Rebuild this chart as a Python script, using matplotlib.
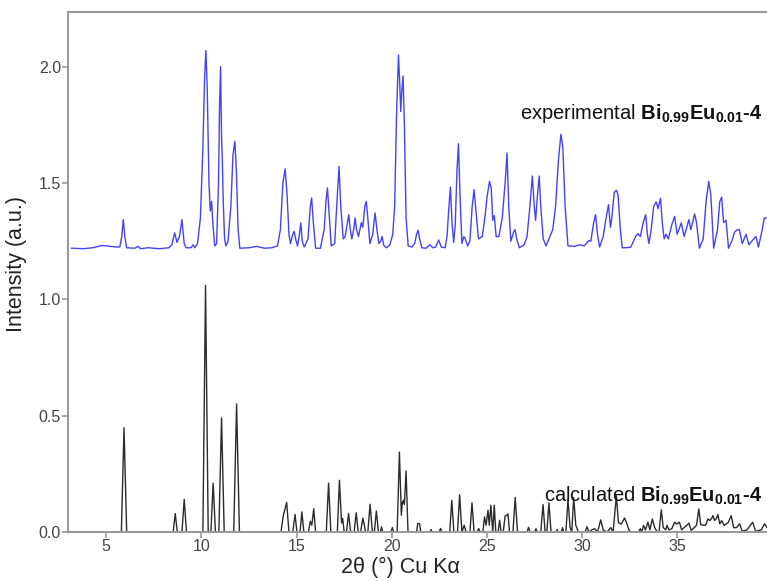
import matplotlib.pyplot as plt

plt.rcParams['font.family'] = ['Liberation Sans', 'DejaVu Sans']
plt.rcParams['mathtext.fontset'] = 'custom'
plt.rcParams['mathtext.rm'] = 'Liberation Sans'
plt.rcParams['mathtext.bf'] = 'Liberation Sans:bold'
plt.rcParams['mathtext.it'] = 'Liberation Sans:italic'

# experimental pattern, traced vertices (2theta, intensity)
exp_2theta = [3.19, 3.8, 4.3, 4.8, 5.2, 5.6,
              5.72, 5.82, 5.90, 5.98, 6.08, 6.5, 6.7, 6.8, 7.2, 7.8, 8.3,
              8.45, 8.60, 8.72, 8.85, 8.98, 9.10, 9.2, 9.45, 9.57, 9.65,
              9.80, 9.95, 10.08, 10.17, 10.24, 10.31, 10.40, 10.47, 10.54, 10.60, 10.70,
              10.80, 10.90, 10.96, 11.01, 11.06, 11.10, 11.15, 11.22, 11.29,
              11.40, 11.55, 11.66, 11.76, 11.84, 11.93, 12.02,
              12.5, 12.9, 13.3, 13.7, 14.0,
              14.15, 14.28, 14.40, 14.50, 14.60, 14.68,
              14.80, 14.87, 14.95, 15.05, 15.15, 15.22, 15.30, 15.40,
              15.60, 15.72, 15.79, 15.88, 16.00,
              16.25, 16.45, 16.55, 16.62, 16.70, 16.82,
              17.0, 17.12, 17.23, 17.32, 17.45,
              17.55, 17.74, 17.82, 17.90, 18.0, 18.07, 18.15, 18.25,
              18.40, 18.48, 18.58, 18.66, 18.74, 18.85,
              19.0, 19.12, 19.22, 19.32, 19.42, 19.49, 19.58, 19.72,
              19.90, 20.05, 20.15, 20.25, 20.35, 20.42, 20.47, 20.53, 20.59, 20.66, 20.75, 20.86,
              21.05, 21.2, 21.30, 21.38, 21.46, 21.58,
              21.8, 22.0, 22.15, 22.3, 22.46, 22.6, 22.8,
              22.9, 23.0, 23.08, 23.16, 23.25, 23.33, 23.42, 23.50, 23.58, 23.68,
              23.78, 23.86, 23.98, 24.10, 24.22, 24.32, 24.42, 24.55,
              24.75, 24.90, 25.0, 25.13, 25.22, 25.30, 25.38, 25.48,
              25.62, 25.80, 25.95, 26.05, 26.14, 26.25, 26.40, 26.47, 26.56, 26.70,
              26.95, 27.10, 27.25, 27.38, 27.48, 27.55, 27.65, 27.74, 27.82, 27.95, 28.10,
              28.30, 28.45, 28.6, 28.75, 28.88, 28.98, 29.10, 29.25,
              29.6, 29.86, 30.10, 30.35, 30.45, 30.60, 30.70, 30.80, 30.91,
              31.10, 31.25, 31.38, 31.48, 31.55, 31.68, 31.79, 31.88, 32.0, 32.10, 32.30, 32.55,
              32.80, 32.92, 33.05, 33.20, 33.33, 33.42, 33.50,
              33.62, 33.75, 33.88, 33.98, 34.11, 34.20, 34.30, 34.40, 34.52,
              34.70, 34.85, 34.98, 35.20, 35.35, 35.60, 35.70, 35.90, 36.0, 36.15,
              36.35, 36.50, 36.64, 36.75, 36.90,
              37.10, 37.22, 37.32, 37.42, 37.55, 37.68,
              37.85, 38.00, 38.16, 38.25, 38.40, 38.60, 38.75, 39.0, 39.12, 39.25, 39.45, 39.56, 39.7]
exp_int = [1.220, 1.218, 1.222, 1.232, 1.228, 1.225,
           1.226, 1.27, 1.343, 1.27, 1.222, 1.220, 1.228, 1.218, 1.222, 1.218, 1.222,
           1.235, 1.286, 1.245, 1.27, 1.343, 1.24, 1.222, 1.222, 1.235, 1.222,
           1.24, 1.35, 1.65, 1.95, 2.069, 1.90, 1.50, 1.38, 1.421, 1.33, 1.23,
           1.24, 1.50, 1.85, 2.0, 1.70, 1.6, 1.42, 1.26, 1.23,
           1.25, 1.40, 1.62, 1.679, 1.55, 1.30, 1.22,
           1.222, 1.228, 1.220, 1.222, 1.23,
           1.30, 1.50, 1.561, 1.45, 1.28, 1.24,
           1.28, 1.293, 1.26, 1.23, 1.28, 1.329, 1.25, 1.225,
           1.26, 1.40, 1.436, 1.33, 1.22,
           1.22, 1.30, 1.43, 1.479, 1.38, 1.23,
           1.24, 1.42, 1.571, 1.40, 1.26,
           1.27, 1.364, 1.30, 1.26, 1.30, 1.35, 1.30, 1.27,
           1.33, 1.31, 1.40, 1.421, 1.35, 1.24,
           1.28, 1.372, 1.30, 1.24, 1.25, 1.271, 1.232, 1.222,
           1.235, 1.28, 1.40, 1.80, 2.05, 1.92, 1.807, 1.90, 1.96, 1.75, 1.35, 1.23,
           1.225, 1.24, 1.28, 1.297, 1.26, 1.222,
           1.22, 1.235, 1.222, 1.225, 1.255, 1.225, 1.222,
           1.27, 1.40, 1.483, 1.33, 1.245, 1.32, 1.55, 1.669, 1.45, 1.24,
           1.27, 1.26, 1.23, 1.25, 1.40, 1.471, 1.38, 1.26,
           1.27, 1.36, 1.44, 1.507, 1.48, 1.34, 1.36, 1.27,
           1.27, 1.35, 1.50, 1.629, 1.40, 1.25, 1.29, 1.30, 1.26, 1.222,
           1.235, 1.27, 1.40, 1.53, 1.40, 1.34, 1.45, 1.53, 1.40, 1.26, 1.23,
           1.27, 1.30, 1.40, 1.60, 1.71, 1.65, 1.40, 1.23,
           1.228, 1.235, 1.23, 1.253, 1.25, 1.33, 1.364, 1.28, 1.225,
           1.27, 1.35, 1.407, 1.31, 1.35, 1.46, 1.469, 1.45, 1.30, 1.222, 1.222, 1.225,
           1.27, 1.283, 1.27, 1.33, 1.364, 1.28, 1.24,
           1.30, 1.40, 1.419, 1.39, 1.435, 1.33, 1.26, 1.28, 1.26,
           1.32, 1.357, 1.28, 1.329, 1.27, 1.343, 1.30, 1.367, 1.33, 1.22,
           1.26, 1.42, 1.507, 1.45, 1.22,
           1.30, 1.42, 1.44, 1.33, 1.34, 1.22,
           1.25, 1.29, 1.30, 1.30, 1.24, 1.28, 1.235, 1.26, 1.27, 1.225, 1.30, 1.35, 1.35]

# calculated pattern, traced vertices
calc_2theta = [3.0, 5.80, 5.94, 6.08,
               8.52, 8.63, 8.74, 8.98, 9.10, 9.22,
               10.08, 10.22, 10.36, 10.50, 10.62, 10.74,
               10.92, 11.06, 11.20, 11.70, 11.85, 12.0,
               14.18, 14.30, 14.48, 14.60, 14.80, 14.92, 15.02,
               15.18, 15.28, 15.38, 15.62, 15.72, 15.80, 15.90, 16.0,
               16.56, 16.68, 16.80, 17.14, 17.25, 17.36, 17.42, 17.50,
               17.62, 17.73, 17.84, 18.02, 18.13, 18.24,
               18.36, 18.48, 18.56, 18.62, 18.74, 18.86, 18.98,
               19.08, 19.19, 19.30, 19.40, 19.46, 19.52, 19.95, 20.03, 20.10,
               20.28, 20.40, 20.50, 20.56, 20.62, 20.66, 20.75, 20.85,
               21.30, 21.36, 21.46, 21.52, 22.0, 22.06, 22.12, 22.48, 22.56, 22.64,
               23.04, 23.15, 23.26, 23.45, 23.56, 23.68, 23.80, 23.90,
               24.10, 24.21, 24.32, 24.48, 24.56, 24.64,
               24.78, 24.87, 24.95, 25.05, 25.12, 25.20, 25.30, 25.38, 25.46,
               25.58, 25.66, 25.74, 25.85, 25.95, 26.02, 26.10, 26.18,
               26.36, 26.48, 26.60, 27.10, 27.18, 27.26, 27.50, 27.57, 27.64,
               27.82, 27.94, 28.05, 28.14, 28.25, 28.36,
               28.62, 28.68, 28.74, 28.90, 28.96, 29.02,
               29.14, 29.25, 29.36, 29.45, 29.55, 29.66, 29.80,
               30.15, 30.25, 30.35, 30.50, 30.65, 30.80, 30.97, 31.10, 31.30, 31.50, 31.62,
               31.79, 31.90, 32.05, 32.22, 32.35, 32.45, 32.55,
               32.95, 33.05, 33.12, 33.22, 33.32, 33.45, 33.55, 33.68, 33.80, 33.95,
               34.03, 34.15, 34.25, 34.38, 34.45, 34.55, 34.70, 34.85, 34.95, 35.10, 35.22,
               35.35, 35.50, 35.60, 35.72, 35.90, 36.0, 36.12, 36.22, 36.35, 36.48, 36.60,
               36.70, 36.80, 36.86, 36.95, 37.05, 37.12, 37.22, 37.32, 37.45, 37.65, 37.82,
               37.95, 38.10, 38.26, 38.40, 38.65, 38.95, 39.10, 39.40, 39.57, 39.7]
calc_int = [0, 0, 0.449, 0,
            0, 0.08, 0, 0, 0.141, 0,
            0, 1.06, 0, 0, 0.211, 0,
            0, 0.491, 0, 0, 0.551, 0,
            0, 0.07, 0.128, 0, 0, 0.076, 0,
            0, 0.087, 0, 0, 0.047, 0.03, 0.101, 0,
            0, 0.211, 0, 0, 0.223, 0.04, 0.059, 0,
            0, 0.08, 0, 0, 0.083, 0,
            0, 0.06, 0.03, 0, 0, 0.12, 0,
            0, 0.091, 0, 0, 0.023, 0, 0, 0.02, 0,
            0, 0.344, 0.073, 0.13, 0.137, 0.12, 0.263, 0,
            0, 0.037, 0.037, 0, 0, 0.011, 0, 0, 0.016, 0,
            0, 0.137, 0, 0, 0.161, 0, 0.03, 0,
            0, 0.126, 0, 0, 0.016, 0,
            0, 0.066, 0.03, 0.094, 0.03, 0.116, 0, 0.116, 0,
            0, 0.051, 0, 0, 0.07, 0.071, 0.079, 0,
            0, 0.149, 0, 0, 0.021, 0, 0, 0.015, 0,
            0, 0.119, 0, 0, 0.126, 0,
            0, 0.011, 0, 0, 0.02, 0,
            0, 0.14, 0.02, 0, 0.149, 0.03, 0,
            0, 0.024, 0, 0.01, 0.015, 0, 0.053, 0.01, 0, 0.02, 0,
            0.156, 0.04, 0.035, 0.061, 0.035, 0.01, 0,
            0, 0.015, 0, 0.029, 0.01, 0.043, 0.01, 0.057, 0.02, 0,
            0, 0.096, 0.02, 0.01, 0.029, 0.01, 0.015, 0.043, 0.035, 0.043, 0.01,
            0.02, 0.03, 0.039, 0.008, 0.021, 0.03, 0.1, 0.033, 0.03, 0.03, 0.057,
            0.05, 0.06, 0.071, 0.05, 0.06, 0.076, 0.036, 0.05, 0.029, 0.04, 0.071,
            0.019, 0.02, 0.036, 0.004, 0.01, 0.043, 0.004, 0.01, 0.036, 0.02]

fig = plt.figure(figsize=(7.67, 5.81), dpi=100)
ax = fig.add_axes([0.0887, 0.084, 0.9113, 0.895])

ax.plot(exp_2theta, exp_int, color='#4343f2', lw=1.0)
ax.plot(calc_2theta, calc_int, color='#2b2b2b', lw=1.0)

ax.set_xlim(3.0, 39.7)
ax.set_ylim(0, 2.234)
ax.set_xticks([5, 10, 15, 20, 25, 30, 35])
ax.set_yticks([0.0, 0.5, 1.0, 1.5, 2.0])
ax.set_yticklabels(['0.0', '0.5', '1.0', '1.5', '2.0'])

for s in ax.spines.values():
    s.set_color('#9a9a9a')
    s.set_linewidth(1.5)
ax.spines['right'].set_visible(False)
ax.tick_params(colors='#9a9a9a', labelcolor='#444444', labelsize=11.5,
               length=4, width=1.2, pad=1)

ax.set_xlabel('2θ (°) Cu Kα', fontsize=15.5, color='#222222')
ax.set_ylabel('Intensity (a.u.)', fontsize=15.5, color='#222222')
ax.xaxis.set_label_coords(0.476, -0.047)
ax.yaxis.set_label_coords(-0.058, 0.515)

ax.text(39.45, 1.797, 'experimental $\\mathbf{Bi_{0.99}Eu_{0.01}‐4}$',
        ha='right', va='center', fontsize=14.5, color='#111111')
ax.text(39.45, 0.156, 'calculated $\\mathbf{Bi_{0.99}Eu_{0.01}‐4}$',
        ha='right', va='center', fontsize=14.5, color='#111111')

fig.savefig('out.png', dpi=100)
